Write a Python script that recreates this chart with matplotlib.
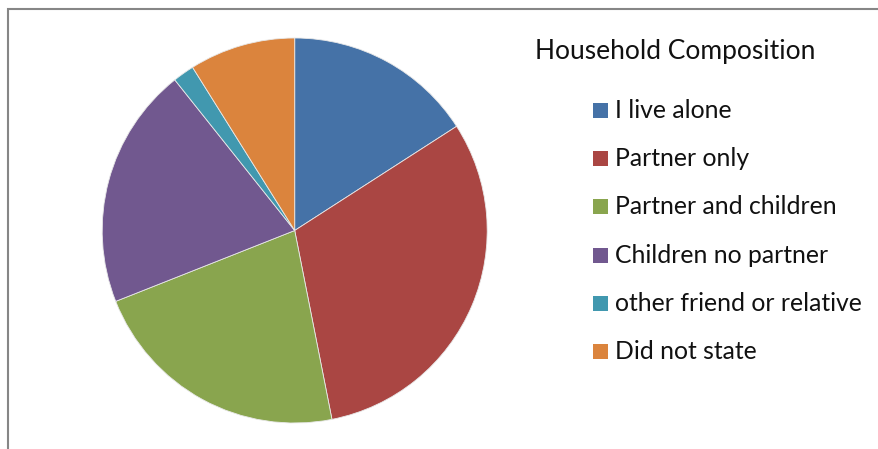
import matplotlib.pyplot as plt
from matplotlib.patches import Rectangle

plt.rcParams["font.family"] = ["Lato", "DejaVu Sans"]

# household composition, percent of respondents
labels = [
    "I live alone",
    "Partner only",
    "Partner and children",
    "Children no partner",
    "other friend or relative",
    "Did not state",
]
shares = [15.9, 31.0, 22.1, 20.3, 1.8, 8.9]
colors = ["#4572A7", "#AA4643", "#89A54E", "#71588F", "#4198AF", "#DB843D"]
title = "Household Composition"

W, H = 879, 449
fig = plt.figure(figsize=(W / 100, H / 100), dpi=100)

# outer chart frame (runs off the right and bottom edges)
fig.patches.append(
    Rectangle((8 / W, -0.05), 1.1, 1.05 - 8.5 / H,
              transform=fig.transFigure, fill=False,
              edgecolor="#868686", linewidth=1.5)
)

# pie axes: centre ~ (294.7, 230.5) px, radius ~192 px
cx, cy, r = 294.7, 230.5, 192.5
ax = fig.add_axes([(cx - r) / W, (H - cy - r) / H, 2 * r / W, 2 * r / H])
ax.pie(shares, colors=colors, startangle=90, counterclock=False,
       radius=1.0, wedgeprops=dict(edgecolor="#e8e8e8", linewidth=0.6))
ax.set_xlim(-1, 1)
ax.set_ylim(-1, 1)
ax.set_aspect("equal")
ax.axis("off")

# legend, drawn by hand
fig.text(535 / W, 1 - 52 / H, title, fontsize=19, va="center", ha="left",
         color="#111111")
y0, dy = 110.5, 48.2
for i, (lab, col) in enumerate(zip(labels, colors)):
    y = y0 + i * dy
    fig.patches.append(
        Rectangle((593 / W, 1 - (y + 7.5) / H), 15 / W, 15 / H,
                  transform=fig.transFigure, facecolor=col, edgecolor="none")
    )
    fig.text(615 / W, 1 - y / H, lab, fontsize=17.8, va="center", ha="left",
             color="#111111")

fig.savefig("out.png", dpi=100)
